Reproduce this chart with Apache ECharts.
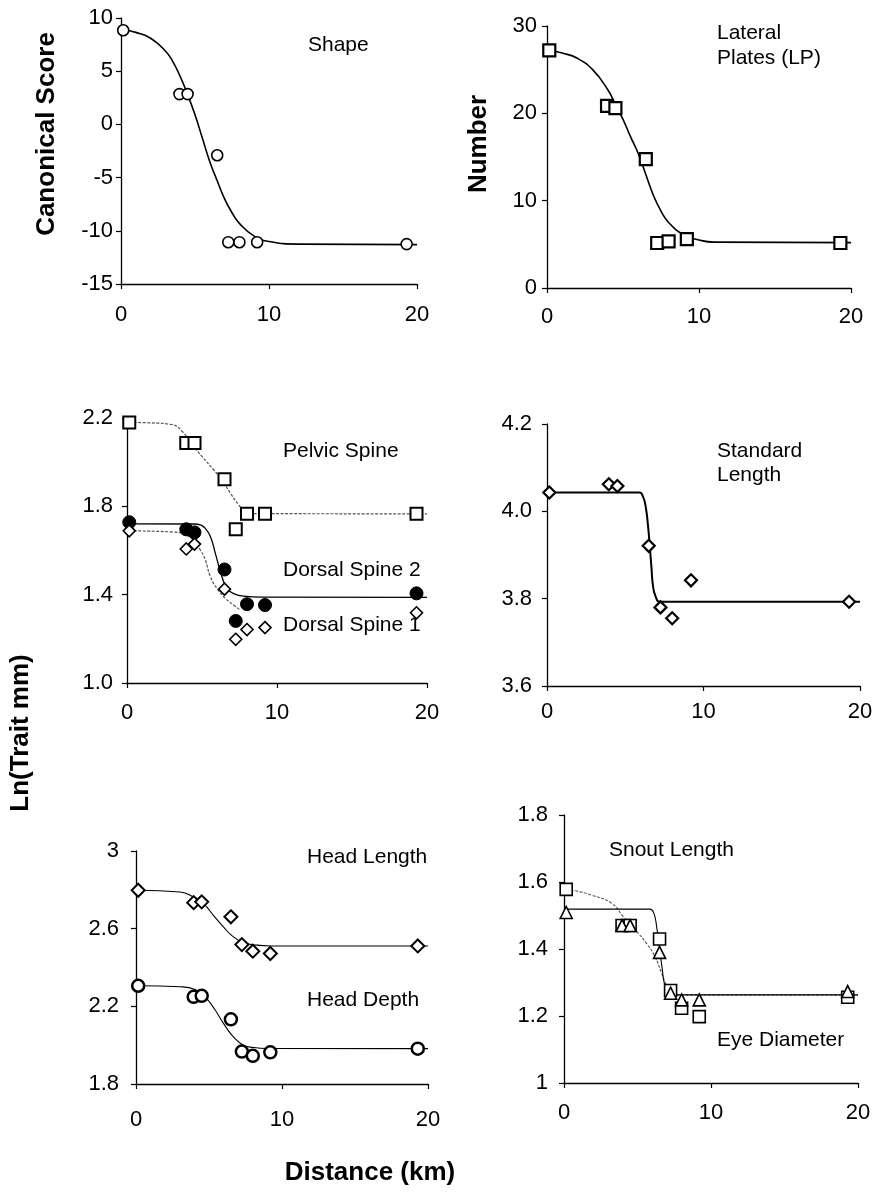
<!DOCTYPE html>
<html>
<head>
<meta charset="utf-8">
<script src="https://cdn.jsdelivr.net/npm/echarts@6/dist/echarts.min.js"></script>
<style>
html, body { margin: 0; padding: 0; background: #fff; }
#c { width: 875px; height: 1195px; }
</style>
</head>
<body>
<div id="c"></div>
<script>
// Sampling sites along the transect (km)
const distanceKm = [0.15, 3.95, 4.5, 6.5, 7.25, 8.0, 9.2, 19.3];

// Site means per trait
const shape          = [8.85, 2.85, 2.85, -2.9, -11.07, -11.07, -11.07, -11.25];
const lateralPlates  = [27.2, 20.85, 20.6, 14.75, 5.15, 5.35, 5.6, 5.15];
const pelvicSpine    = [2.18, 2.087, 2.087, 1.923, 1.696, 1.766, 1.766, 1.766];
const dorsalSpine2   = [1.728, 1.696, 1.682, 1.514, 1.281, 1.357, 1.353, 1.406];
const dorsalSpine1   = [1.689, 1.607, 1.629, 1.425, 1.198, 1.242, 1.251, 1.318];
const standardLength = [4.043, 4.062, 4.058, 3.921, 3.78, 3.755, 3.842, 3.793];
const headLength     = [2.798, 2.734, 2.738, 2.661, 2.518, 2.484, 2.472, 2.511];
const headDepth      = [2.306, 2.249, 2.254, 2.133, 1.967, 1.945, 1.963, 1.982];
const snoutLength    = [1.578, 1.47, 1.47, 1.43, 1.276, 1.223, 1.198, 1.256];
const eyeDiameter    = [1.509, 1.47, 1.47, 1.39, 1.268, 1.248, 1.248, 1.273];

// Fitted cline curves [km, value]
const shapeFit = [[0.15, 8.9], [1, 8.65], [2, 8.1], [3, 6.9], [3.5, 5.9], [4, 4.5], [4.5, 2.8], [5, 0.9], [5.5, -1.3],
  [6, -3.5], [6.5, -5.3], [7, -7.0], [7.5, -8.3], [8, -9.3], [9, -10.5], [10, -11.0], [12, -11.25], [20, -11.3]];
const lateralPlatesFit = [[0.15, 27.2], [1, 26.9], [2, 26.3], [3, 25.0], [4, 22.7], [4.5, 21.0], [5, 19.3], [5.5, 17.3],
  [6, 15.4], [6.5, 13.0], [7, 10.6], [7.5, 8.8], [8, 7.5], [9, 6.1], [10, 5.5], [11, 5.25], [20, 5.2]];
const pelvicSpineFit = [[0.15, 2.18], [1.5, 2.178], [3.0, 2.17], [3.67, 2.14], [4.44, 2.071], [5.0, 2.026], [5.78, 1.965],
  [6.33, 1.92], [6.89, 1.86], [7.44, 1.807], [7.89, 1.776], [8.6, 1.767], [20, 1.766]];
const dorsalSpine2Fit = [[0.15, 1.721], [4.5, 1.72], [4.89, 1.716], [5.22, 1.70], [5.56, 1.663], [5.89, 1.587],
  [6.33, 1.481], [6.67, 1.428], [7.11, 1.405], [7.78, 1.393], [9, 1.389], [20, 1.388]];
const dorsalSpine1Fit = [[0.15, 1.689], [3.0, 1.684], [4.3, 1.655], [4.89, 1.602], [5.22, 1.557], [5.56, 1.481],
  [6.0, 1.428], [6.56, 1.383], [7.11, 1.353], [7.56, 1.33]];
const standardLengthFit = [[0.15, 4.043], [5.9, 4.043], [6.14, 4.033], [6.31, 4.01], [6.46, 3.965], [6.57, 3.919],
  [6.67, 3.873], [6.78, 3.827], [6.95, 3.804], [7.2, 3.793], [20, 3.793]];
const headLengthFit = [[0.15, 2.798], [3.02, 2.789], [3.93, 2.763], [4.62, 2.729], [5.3, 2.669], [5.99, 2.609],
  [6.67, 2.558], [7.36, 2.529], [8.27, 2.515], [9.19, 2.511], [20, 2.511]];
const headDepthFit = [[0.15, 2.306], [3.02, 2.301], [4.05, 2.287], [4.73, 2.249], [5.42, 2.181], [5.99, 2.112],
  [6.67, 2.043], [7.36, 2.0], [8.05, 1.988], [8.96, 1.983], [20, 1.982]];
const eyeDiameterFit = [[0.15, 1.519], [5.84, 1.519], [6.11, 1.507], [6.3, 1.467], [6.48, 1.407], [6.66, 1.348],
  [6.82, 1.298], [7.02, 1.273], [7.32, 1.263], [20, 1.263]];
const snoutLengthFit = [[0.15, 1.578], [1.07, 1.571], [1.86, 1.561], [3.23, 1.537], [4.02, 1.497], [5.05, 1.447],
  [5.61, 1.417], [6.18, 1.378], [6.64, 1.328], [7.02, 1.288], [7.43, 1.268], [8.11, 1.263], [20, 1.263]];

// Axis ticks
const xTickLabels = ['0', '10', '20'];
const shapeTicks = ['-15', '-10', '-5', '0', '5', '10'];
const plateTicks = ['0', '10', '20', '30'];
const spineTicks = ['1.0', '1.4', '1.8', '2.2'];
const lengthTicks = ['3.6', '3.8', '4.0', '4.2'];
const headTicks = ['1.8', '2.2', '2.6', '3'];
const snoutTicks = ['1', '1.2', '1.4', '1.6', '1.8'];

const FONT = '"Liberation Sans", Arial, Helvetica, sans-serif';
const TICK_SIZE = 22;

const grids = [
  { left: 121, top: 18,  width: 296, height: 266 },
  { left: 547, top: 26,  width: 304, height: 262 },
  { left: 127, top: 418, width: 300, height: 265 },
  { left: 547, top: 424, width: 313, height: 262 },
  { left: 136, top: 851, width: 292, height: 233 },
  { left: 564, top: 815, width: 294, height: 268 }
];

function makeX(gi, margin) {
  return {
    gridIndex: gi, type: 'value', min: 0, max: 20, interval: 10,
    axisLine: { show: true, onZero: false, lineStyle: { color: '#000', width: 1.3 } },
    axisTick: { show: true, length: 5, lineStyle: { color: '#000', width: 1.2 } },
    axisLabel: { margin: margin, fontSize: TICK_SIZE, color: '#000', fontFamily: FONT,
      formatter: (v, i) => xTickLabels[i] },
    splitLine: { show: false }
  };
}
function makeY(gi, min, max, interval, labels, margin) {
  return {
    gridIndex: gi, type: 'value', min: min, max: max, interval: interval,
    axisLine: { show: true, onZero: false, lineStyle: { color: '#000', width: 1.3 } },
    axisTick: { show: true, length: 5, lineStyle: { color: '#000', width: 1.2 } },
    axisLabel: { margin: margin, fontSize: TICK_SIZE, color: '#000', fontFamily: FONT,
      formatter: (v, i) => labels[i] },
    splitLine: { show: false }
  };
}

function pts(values) { return distanceKm.map((d, i) => [d, values[i]]); }

function fitLine(gi, data, width, dotted) {
  return {
    type: 'line', xAxisIndex: gi, yAxisIndex: gi, data: data,
    showSymbol: false, smooth: 0.5, silent: true, z: 2,
    lineStyle: dotted
      ? { color: '#555', width: width, type: [3, 1.5] }
      : { color: '#000', width: width }
  };
}
function markers(gi, values, symbol, size, borderWidth, filled) {
  return {
    type: 'scatter', xAxisIndex: gi, yAxisIndex: gi, data: pts(values),
    symbol: symbol, symbolSize: size, z: 3,
    itemStyle: { color: filled ? '#000' : '#fff', borderColor: '#000', borderWidth: borderWidth, opacity: 1 }
  };
}

function label(text, x, y) {
  return { type: 'text', x: x, y: y, style: { text: text, font: '21px ' + FONT, fill: '#000',
    align: 'left', verticalAlign: 'middle' } };
}
function title(text, x, y, vertical) {
  return { type: 'text', x: x, y: y, rotation: vertical ? Math.PI / 2 : 0,
    style: { text: text, font: 'bold 26px ' + FONT, fill: '#000', align: 'center', verticalAlign: 'middle' } };
}

const chart = echarts.init(document.getElementById('c'), null, { renderer: 'canvas' });
chart.setOption({
  animation: false,
  backgroundColor: '#fff',
  grid: grids.map(g => Object.assign({ containLabel: false, outerBoundsMode: 'none' }, g)),
  xAxis: [makeX(0, 20), makeX(1, 18), makeX(2, 19), makeX(3, 15), makeX(4, 25), makeX(5, 19)],
  yAxis: [
    makeY(0, -15, 10, 5, shapeTicks, 8),
    makeY(1, 0, 30, 10, plateTicks, 10),
    makeY(2, 1.0, 2.2, 0.4, spineTicks, 14),
    makeY(3, 3.6, 4.2, 0.2, lengthTicks, 15),
    makeY(4, 1.8, 3.0, 0.4, headTicks, 17),
    makeY(5, 1.0, 1.8, 0.2, snoutTicks, 16)
  ],
  series: [
    fitLine(0, shapeFit, 1.6, false),
    markers(0, shape, 'circle', 11, 1.6, false),

    fitLine(1, lateralPlatesFit, 1.6, false),
    markers(1, lateralPlates, 'rect', 12, 2.2, false),

    fitLine(2, pelvicSpineFit, 1.2, true),
    fitLine(2, dorsalSpine2Fit, 1.3, false),
    fitLine(2, dorsalSpine1Fit, 1.2, true),
    markers(2, pelvicSpine, 'rect', 12, 2, false),
    markers(2, dorsalSpine2, 'circle', 13, 1, true),
    markers(2, dorsalSpine1, 'diamond', 12, 1.6, false),

    fitLine(3, standardLengthFit, 2, false),
    markers(3, standardLength, 'diamond', 12, 2.2, false),

    fitLine(4, headLengthFit, 1.1, false),
    fitLine(4, headDepthFit, 1.1, false),
    markers(4, headLength, 'diamond', 13, 2, false),
    markers(4, headDepth, 'circle', 12, 2.5, false),

    fitLine(5, snoutLengthFit, 1.1, true),
    fitLine(5, eyeDiameterFit, 1.1, false),
    markers(5, snoutLength, 'rect', 12, 1.6, false),
    markers(5, eyeDiameter, 'triangle', 12, 1.6, false)
  ],
  graphic: [
    label('Shape', 308, 45),
    label('Lateral', 717, 33),
    label('Plates (LP)', 717, 58),
    label('Pelvic Spine', 283, 451),
    label('Dorsal Spine 2', 283, 570),
    label('Dorsal Spine 1', 283, 625),
    label('Standard', 717, 451),
    label('Length', 717, 475),
    label('Head Length', 307, 857),
    label('Head Depth', 307, 1000),
    label('Snout Length', 609, 850),
    label('Eye Diameter', 717, 1040),
    title('Canonical Score', 47, 134, true),
    title('Number', 479, 144, true),
    title('Ln(Trait mm)', 21, 733, true),
    title('Distance (km)', 370, 1173, false)
  ]
});
</script>
</body>
</html>
